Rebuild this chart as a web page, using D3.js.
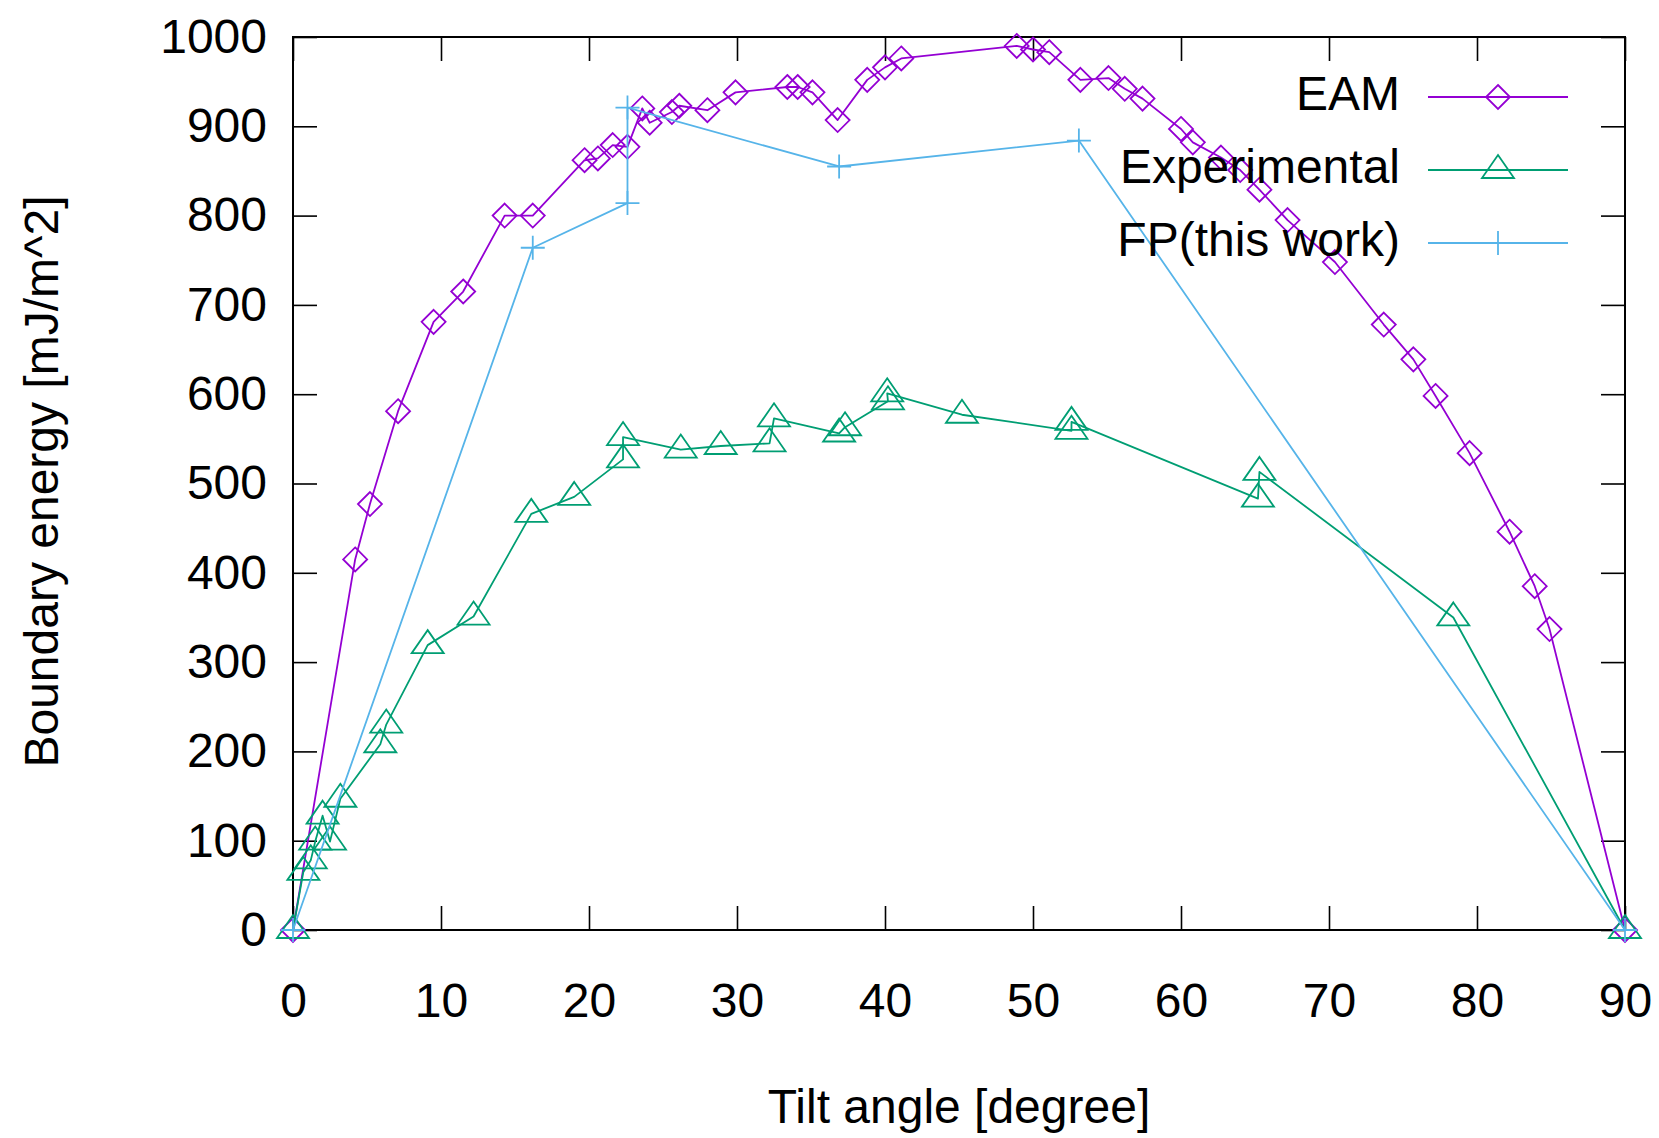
<!DOCTYPE html>
<html>
<head>
<meta charset="utf-8">
<script src="https://cdn.jsdelivr.net/npm/d3@7/dist/d3.min.js"></script>
<style>
  body { margin: 0; background: #fff; }
  svg text { font-family: "Liberation Sans", Arial, Helvetica, sans-serif; fill: #000; }
</style>
</head>
<body>
<div id="chart"></div>
<script>
(function() {
  'use strict';

  // data
  var eamAngle = [0, 4.2, 5.2, 7.1, 9.5, 11.5, 14.3, 16.2, 19.7, 20.6, 21.6, 22.6, 23.6, 24.1,
    25.6, 26.1, 28.0, 29.9, 33.4, 34.1, 35.1, 36.8, 38.8, 40.0, 41.1, 48.9, 50.0, 51.1, 53.2,
    55.1, 56.2, 57.4, 60.0, 60.8, 62.7, 64.0, 65.3, 67.2, 70.4, 73.7, 75.7, 77.2, 79.5, 82.2,
    83.9, 84.9, 90];
  var eamEnergy = [0, 415, 477, 581, 681, 715, 800, 800, 862, 864, 879, 877, 920, 904,
    916, 923, 918, 938, 944, 944, 938, 907, 952, 966, 976, 990, 986, 983, 952,
    954, 942, 931, 897, 882, 865, 851, 829, 795, 748, 678, 639, 598, 534, 446,
    385, 337, 0];

  var expAngle = [0, 0.7, 1.2, 1.5, 2.0, 2.5, 3.2, 5.9, 6.3, 9.1, 12.2, 16.1, 19.0, 22.3, 22.3,
    26.2, 28.9, 32.2, 32.5, 36.9, 37.3, 40.2, 40.15, 45.2, 52.6, 52.6, 65.2, 65.3, 78.4, 90];
  var expEnergy = [0, 65, 78, 99, 128, 99, 147, 208, 230, 319, 351, 466, 485, 527, 552,
    538, 542, 545, 573, 556, 563, 592, 601, 577, 559, 569, 483, 513, 350, 0];

  var fpAngle = [0, 16.2, 22.6, 22.6, 36.9, 53.1, 90];
  var fpEnergy = [0, 764, 814, 921, 855, 884, 0];

  var seriesNames = ['EAM', 'Experimental', 'FP(this work)'];
  var xTicks = [0, 10, 20, 30, 40, 50, 60, 70, 80, 90];
  var yTicks = [0, 100, 200, 300, 400, 500, 600, 700, 800, 900, 1000];

  var svgWidth = 1659,
    svgHeight = 1138,
    margin = { top: 37, right: 34, bottom: 208, left: 293 },
    width = svgWidth - margin.left - margin.right,
    height = svgHeight - margin.top - margin.bottom,
    tickLen = 24,
    fontSize = 48;

  var colors = ['#9400d3', '#009e73', '#56b4e9'];
  var markers = [
    'M0,-12L12,0L0,12L-12,0Z',
    'M0,-15L16,8L-16,8Z',
    'M-12,0H12M0,-12V12'
  ];

  function zip(a, b) {
    return a.map(function(v, i) { return [v, b[i]]; });
  }
  var series = [zip(eamAngle, eamEnergy), zip(expAngle, expEnergy), zip(fpAngle, fpEnergy)];

  var x = d3.scaleLinear().domain([0, 90]).range([0, width]);
  var y = d3.scaleLinear().domain([0, 1000]).range([height, 0]);

  var svg = d3.select('#chart')
    .append('svg')
    .attr('width', svgWidth)
    .attr('height', svgHeight)
    .append('g')
    .attr('transform', 'translate(' + margin.left + ',' + margin.top + ')');

  // ticks on all four sides, pointing in
  svg.append('g')
    .attr('transform', 'translate(0,' + height + ')')
    .call(d3.axisBottom(x).tickValues(xTicks).tickFormat(d3.format('d'))
      .tickSizeInner(-tickLen).tickSizeOuter(0).tickPadding(53));
  svg.append('g')
    .call(d3.axisLeft(y).tickValues(yTicks).tickFormat(d3.format('d'))
      .tickSizeInner(-tickLen).tickSizeOuter(0).tickPadding(26));
  svg.append('g')
    .call(d3.axisTop(x).tickValues(xTicks).tickSizeInner(-tickLen).tickSizeOuter(0).tickFormat(''));
  svg.append('g')
    .attr('transform', 'translate(' + width + ',0)')
    .call(d3.axisRight(y).tickValues(yTicks).tickSizeInner(-tickLen).tickSizeOuter(0).tickFormat(''));

  svg.selectAll('.domain').remove();
  svg.selectAll('.tick line').attr('stroke', '#000').attr('stroke-width', 1.6);
  svg.selectAll('.tick text')
    .attr('font-size', fontSize)
    .attr('font-family', '"Liberation Sans", Arial, Helvetica, sans-serif')
    .attr('fill', '#000');

  svg.append('rect')
    .attr('x', 0)
    .attr('y', 0)
    .attr('width', width)
    .attr('height', height)
    .attr('fill', 'none')
    .attr('stroke', '#000')
    .attr('stroke-width', 2);

  // axis titles
  svg.append('text')
    .attr('transform', 'translate(' + (58 - margin.left) + ',' + (height / 2 - 2) + ') rotate(-90)')
    .attr('text-anchor', 'middle')
    .attr('font-size', fontSize)
    .text('Boundary energy [mJ/m^2]');

  svg.append('text')
    .attr('x', width / 2)
    .attr('y', 1123 - margin.top)
    .attr('text-anchor', 'middle')
    .attr('font-size', fontSize)
    .text('Tilt angle [degree]');

  var line = d3.line()
    .x(function(d) { return x(d[0]); })
    .y(function(d) { return y(d[1]); });

  series.forEach(function(pts, i) {
    var g = svg.append('g').attr('class', 'series');
    g.append('path')
      .datum(pts)
      .attr('d', line)
      .attr('fill', 'none')
      .attr('stroke', colors[i])
      .attr('stroke-width', 1.8)
      .attr('stroke-linejoin', 'round');
    g.selectAll('path.marker')
      .data(pts)
      .enter().append('path')
      .classed('marker', true)
      .attr('d', markers[i])
      .attr('transform', function(d) {
        return 'translate(' + x(d[0]) + ',' + y(d[1]) + ')';
      })
      .attr('fill', 'none')
      .attr('stroke', colors[i])
      .attr('stroke-width', 1.8);
  });

  //legend, top right inside the frame
  var key = svg.append('g')
    .attr('transform', 'translate(' + (1400 - margin.left) + ',' + (97 - margin.top) + ')');

  var rows = key.selectAll('g')
    .data(seriesNames)
    .enter().append('g')
    .attr('transform', function(d, i) { return 'translate(0,' + (i * 73) + ')'; });

  rows.append('text')
    .attr('text-anchor', 'end')
    .attr('y', 13)
    .attr('font-size', fontSize)
    .text(function(d) { return d; });

  rows.append('line')
    .attr('x1', 28)
    .attr('x2', 168)
    .attr('stroke', function(d, i) { return colors[i]; })
    .attr('stroke-width', 1.8);

  rows.append('path')
    .attr('d', function(d, i) { return markers[i]; })
    .attr('transform', 'translate(98,0)')
    .attr('fill', 'none')
    .attr('stroke', function(d, i) { return colors[i]; })
    .attr('stroke-width', 1.8);

})();
</script>
</body>
</html>
